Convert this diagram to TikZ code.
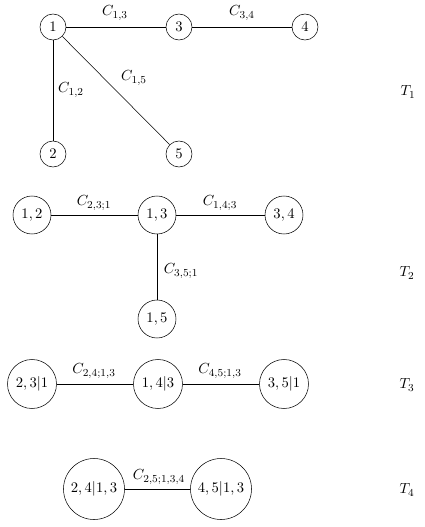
\documentclass[tikz,border=0pt]{standalone}
\begin{document}
\begin{tikzpicture}[x=0.75pt,y=-0.75pt,
  every node/.style={font=\fontsize{10.95}{13}\selectfont},
  vbase/.style={draw,circle,inner sep=0pt},
  va/.style={vbase,minimum size=19.5pt},
  vb/.style={vbase,minimum size=28.5pt},
  vc/.style={vbase,minimum size=36.75pt},
  vd/.style={vbase,minimum size=45.75pt},
  edge/.style={draw},
  elab/.style={inner sep=1pt},
  tlab/.style={inner sep=0pt}]
\useasboundingbox (0,0) rectangle (424,527);
% T1
\node[va] (n1) at (53,27) {$1$};
\node[va] (n3) at (179,27) {$3$};
\node[va] (n4) at (305,27) {$4$};
\node[va] (n2) at (53,154) {$2$};
\node[va] (n5) at (179,154) {$5$};
\draw[edge] (n1) -- (n3);
\draw[edge] (n3) -- (n4);
\draw[edge] (n1) -- (n2);
\draw[edge] (n1) -- (n5);
\node[elab] (l13) at (115,13) {$C_{1,3}$};
\node[elab] (l34) at (242,13) {$C_{3,4}$};
\node[elab] (l12) at (71,90) {$C_{1,2}$};
\node[elab] (l15) at (134,78) {$C_{1,5}$};
\node[tlab] (t1) at (408,92) {$T_1$};
% T2
\node[vb] (m12) at (32,215) {$1,2$};
\node[vb] (m13) at (157,215) {$1,3$};
\node[vb] (m34) at (284,215) {$3,4$};
\node[vb] (m15) at (157,319) {$1,5$};
\draw[edge] (m12) -- (m13);
\draw[edge] (m13) -- (m34);
\draw[edge] (m13) -- (m15);
\node[elab] (l231) at (94,203) {$C_{2,3;1}$};
\node[elab] (l143) at (220,203) {$C_{1,4;3}$};
\node[elab] (l351) at (181,271) {$C_{3,5;1}$};
\node[tlab] (t2) at (407,273) {$T_2$};
% T3
\node[vc] (p231) at (32,384) {$2,3|1$};
\node[vc] (p143) at (158,384) {$1,4|3$};
\node[vc] (p351) at (284,384) {$3,5|1$};
\draw[edge] (p231) -- (p143);
\draw[edge] (p143) -- (p351);
\node[elab] (l2413) at (94,371) {$C_{2,4;1,3}$};
\node[elab] (l4513) at (220,371) {$C_{4,5;1,3}$};
\node[tlab] (t3) at (407,385) {$T_3$};
% T4
\node[vd] (q2413) at (94,489) {$2,4|1,3$};
\node[vd] (q4513) at (221,489) {$4,5|1,3$};
\draw[edge] (q2413) -- (q4513);
\node[elab] (l25134) at (159,477) {$C_{2,5;1,3,4}$};
\node[tlab] (t4) at (407,490) {$T_4$};
\end{tikzpicture}
\end{document}
